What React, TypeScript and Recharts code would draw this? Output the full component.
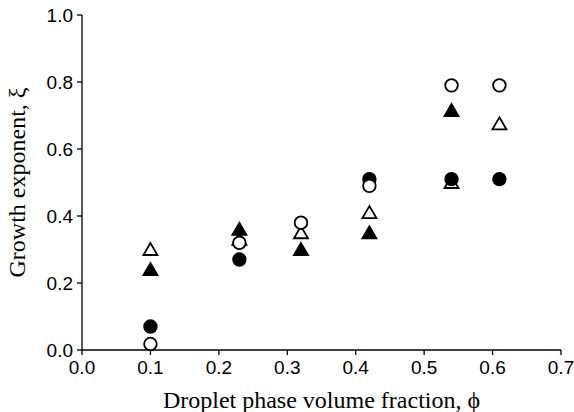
import { ScatterChart, Scatter, XAxis, YAxis, Label } from "recharts"

// phase volume fraction for each series
const phiOpenTri = [0.1, 0.23, 0.32, 0.42, 0.54, 0.61]
const xiOpenTri = [0.30, 0.33, 0.35, 0.41, 0.50, 0.675]

const phiFilledTri = [0.1, 0.23, 0.32, 0.42, 0.54]
const xiFilledTri = [0.24, 0.36, 0.30, 0.35, 0.715]

const phiFilledCirc = [0.1, 0.23, 0.42, 0.54, 0.61]
const xiFilledCirc = [0.07, 0.27, 0.51, 0.51, 0.51]

const phiOpenCirc = [0.1, 0.23, 0.32, 0.42, 0.54, 0.61]
const xiOpenCirc = [0.018, 0.32, 0.38, 0.49, 0.79, 0.79]

const xTicks = [0, 0.1, 0.2, 0.3, 0.4, 0.5, 0.6, 0.7]
const yTicks = [0, 0.2, 0.4, 0.6, 0.8, 1.0]

const toRows = (xs: number[], ys: number[]) => xs.map((x, i) => ({ x, y: ys[i] }))

const Tri = (filled: boolean) => (p: any) => {
  const { cx, cy } = p
  return (
    <polygon
      points={`${cx},${cy - 6.5} ${cx - 7},${cy + 5.5} ${cx + 7},${cy + 5.5}`}
      fill={filled ? "#000" : "#fff"}
      stroke="#000"
      strokeWidth={1.8}
    />
  )
}

const Circ = (filled: boolean) => (p: any) => (
  <circle cx={p.cx} cy={p.cy} r={6.3} fill={filled ? "#000" : "#fff"} stroke="#000" strokeWidth={1.8} />
)

const tickStyle = { fontFamily: "Liberation Sans, Arial, sans-serif", fontSize: 19, fill: "#000" }
const titleStyle = { fontFamily: "Liberation Serif, Times New Roman, serif", fontSize: 24, fill: "#000" }

export default function App() {
  return (
    <div style={{ position: "absolute", left: 0, top: 0 }}>
      <ScatterChart width={574} height={412} margin={{ top: 15, right: 13, bottom: 0, left: 0 }}>
        <XAxis
          type="number"
          dataKey="x"
          domain={[0, 0.7]}
          ticks={xTicks}
          tickFormatter={(v: number) => v.toFixed(1)}
          height={62}
          stroke="#000"
          strokeWidth={1.3}
          tickSize={5}
          tickMargin={6}
          tick={tickStyle}
          interval={0}
          allowDataOverflow
        >
          <Label value="Droplet phase volume fraction, ϕ" position="insideBottom" offset={4} style={titleStyle} />
        </XAxis>
        <YAxis
          type="number"
          dataKey="y"
          domain={[0, 1]}
          ticks={yTicks}
          tickFormatter={(v: number) => v.toFixed(1)}
          width={82}
          stroke="#000"
          strokeWidth={1.3}
          tickSize={5}
          tickMargin={4}
          tick={tickStyle}
          interval={0}
        >
          <Label value="Growth exponent, ξ" angle={-90} position="insideLeft" offset={16} style={{ ...titleStyle, textAnchor: "middle" }} />
        </YAxis>
        <Scatter data={toRows(phiOpenTri, xiOpenTri)} shape={Tri(false)} isAnimationActive={false} />
        <Scatter data={toRows(phiFilledTri, xiFilledTri)} shape={Tri(true)} isAnimationActive={false} />
        <Scatter data={toRows(phiFilledCirc, xiFilledCirc)} shape={Circ(true)} isAnimationActive={false} />
        <Scatter data={toRows(phiOpenCirc, xiOpenCirc)} shape={Circ(false)} isAnimationActive={false} />
      </ScatterChart>
    </div>
  )
}
